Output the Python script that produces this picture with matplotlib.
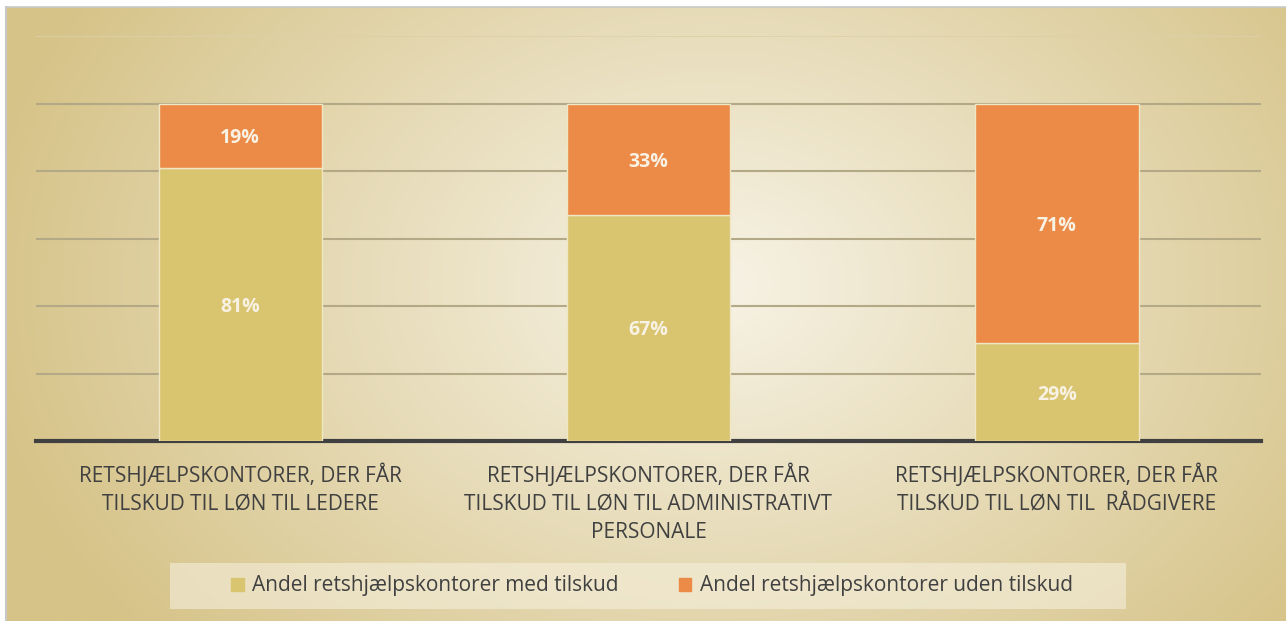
import numpy as np
import matplotlib.pyplot as plt
from matplotlib.patches import Rectangle

# data
categories = [
    "RETSHJÆLPSKONTORER, DER FÅR\nTILSKUD TIL LØN TIL LEDERE",
    "RETSHJÆLPSKONTORER, DER FÅR\nTILSKUD TIL LØN TIL ADMINISTRATIVT\nPERSONALE",
    "RETSHJÆLPSKONTORER, DER FÅR\nTILSKUD TIL LØN TIL  RÅDGIVERE",
]
med_tilskud = [81, 67, 29]
uden_tilskud = [19, 33, 71]
series_names = ["Andel retshjælpskontorer med tilskud",
                "Andel retshjælpskontorer uden tilskud"]

gold = "#d9c46f"
orange = "#ec8a47"
text_col = "#404040"

plt.rcParams["font.family"] = ["Open Sans", "DejaVu Sans"]

fig = plt.figure(figsize=(12.86, 6.21), dpi=100)
fig.patch.set_facecolor("white")

# background gradient
bg = fig.add_axes([7 / 1286, 0, 1 - 7 / 1286, 614 / 621])
h, w = 300, 600
yy, xx = np.mgrid[0:h, 0:w]
cx, cy = 0.55 * w, 0.45 * h
d = np.sqrt(((xx - cx) / (w * 0.58)) ** 2 + ((yy - cy) / (h * 0.9)) ** 2)
d = np.clip(d, 0, 1)
light = np.array([247, 243, 230]) / 255
dark = np.array([214, 195, 136]) / 255
img = light[None, None, :] * (1 - d[..., None]) + dark[None, None, :] * d[..., None]
bg.imshow(img, aspect="auto", extent=[0, 1, 0, 1], interpolation="bilinear")
bg.set_axis_off()
fig.add_artist(plt.Line2D([6 / 1286, 6 / 1286], [0, 614 / 621], color="#c8c8c8", lw=1.5))
fig.add_artist(plt.Line2D([6 / 1286, 1], [614 / 621, 614 / 621], color="#c8c8c8", lw=1.2))

ax = fig.add_axes([36 / 1286, (621 - 441) / 621, (1261 - 36) / 1286, (441 - 36) / 621])
ax.patch.set_alpha(0)
x = np.arange(len(categories))
ax.bar(x, med_tilskud, width=0.4, color=gold, edgecolor="#efe6c4", linewidth=1, zorder=3)
ax.bar(x, uden_tilskud, width=0.4, bottom=med_tilskud, color=orange,
       edgecolor="#efe6c4", linewidth=1, zorder=3)

for i in range(len(categories)):
    ax.text(x[i], med_tilskud[i] / 2, f"{med_tilskud[i]}%", ha="center", va="center_baseline",
            color="#f8f2e4", fontsize=14, fontweight="bold", zorder=4)
    ax.text(x[i], med_tilskud[i] + uden_tilskud[i] / 2, f"{uden_tilskud[i]}%", ha="center",
            va="center_baseline", color="#f8f2e4", fontsize=14, fontweight="bold", zorder=4)

ax.set_xlim(-0.5, 2.5)
ax.set_ylim(0, 120)
for yv in [20, 40, 60, 80, 100]:
    ax.axhline(yv, color="#b3a987", lw=1.5, zorder=1)
ax.axhline(120, color="#ddd0a8", lw=1.2, zorder=1)
for s in ["top", "right", "left"]:
    ax.spines[s].set_visible(False)
ax.spines["bottom"].set_color("#404040")
ax.spines["bottom"].set_linewidth(3)
ax.set_yticks([])
ax.set_xticks(x)
ax.set_xticklabels(categories, fontsize=15, color=text_col, linespacing=1.45, va="top")
ax.tick_params(axis="x", length=0, pad=16)

# legend box
fig.add_artist(Rectangle((170 / 1286, (621 - 609) / 621), (1126 - 170) / 1286, 46 / 621,
                         transform=fig.transFigure, facecolor="#f5efdc", alpha=0.6,
                         edgecolor="none"))
handles = [Rectangle((0, 0), 1, 1, color=gold), Rectangle((0, 0), 1, 1, color=orange)]
fig.legend(handles, series_names, loc="center", bbox_to_anchor=(0.507, 35 / 621), ncol=2,
           frameon=False, fontsize=15, handlelength=0.6, handleheight=0.6,
           handletextpad=0.4, columnspacing=2.9, labelcolor=text_col)

fig.savefig("out.png", dpi=100)
